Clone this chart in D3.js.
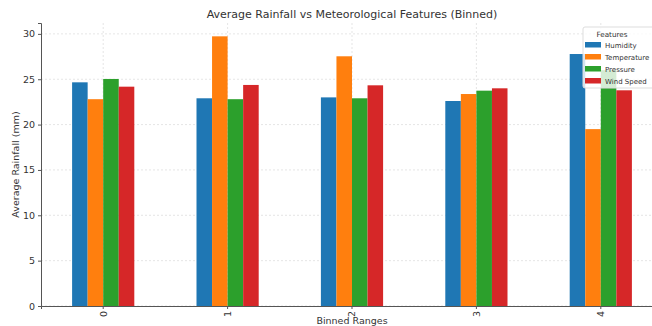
<!DOCTYPE html>
<html><head><meta charset="utf-8">
<script src="https://cdn.jsdelivr.net/npm/d3@7"></script>
<style>body{margin:0;background:#fff}svg{display:block;font-family:"DejaVu Sans",sans-serif}</style>
</head><body><svg id="c" width="652" height="326"></svg>
<script>
const categories = ["0","1","2","3","4"];
const seriesNames = ["Humidity","Temperature","Pressure","Wind Speed"];
const humidity    = [24.66, 22.90, 23.00, 22.60, 27.78];
const temperature = [22.80, 29.73, 27.53, 23.37, 19.50];
const pressure    = [25.03, 22.80, 22.90, 23.74, 26.00];
const windSpeed   = [24.18, 24.37, 24.33, 24.00, 23.78];
const yTicks = [0,5,10,15,20,25,30];
const colors = ["#1f77b4","#ff7f0e","#2ca02c","#d62728"];
const seriesValues = [humidity, temperature, pressure, windSpeed];

(function(){
const svg = d3.select("#c");
const mL = 41, mR = 663, mT = 23, mB = 306;
const x = d3.scaleBand().domain(categories).range([mL, mR]).paddingInner(0).paddingOuter(0);
const xs = d3.scaleBand().domain(seriesNames).range([0, x.bandwidth()]).paddingInner(0).paddingOuter(2);
const y = d3.scaleLinear().domain([0, 31.2]).range([mB, mT]);

// grid
const g = svg.append("g");
g.selectAll("line.h").data(yTicks).join("line")
  .attr("x1", mL).attr("x2", mR).attr("y1", d=>y(d)).attr("y2", d=>y(d))
  .attr("stroke","#dedede").attr("stroke-dasharray","2,2").attr("stroke-width",0.8);
g.selectAll("line.v").data(categories).join("line")
  .attr("x1", d=>x(d)+x.bandwidth()/2).attr("x2", d=>x(d)+x.bandwidth()/2).attr("y1", mT).attr("y2", mB)
  .attr("stroke","#dedede").attr("stroke-dasharray","2,2").attr("stroke-width",0.8);

// bars
seriesNames.forEach((s, si) => {
  svg.append("g").selectAll("rect").data(categories).join("rect")
    .attr("x", d => x(d) + xs(s))
    .attr("width", xs.bandwidth())
    .attr("y", (d,i) => y(seriesValues[si][i]))
    .attr("height", (d,i) => y(0) - y(seriesValues[si][i]))
    .attr("fill", colors[si]);
});

// axes
const yAxis = svg.append("g").attr("transform", `translate(${mL},0)`)
  .call(d3.axisLeft(y).tickValues(yTicks).tickSize(3).tickPadding(3));
const xAxis = svg.append("g").attr("transform", `translate(0,${mB})`)
  .call(d3.axisBottom(x).tickSize(3).tickPadding(3));
[yAxis, xAxis].forEach(a => {
  a.selectAll("path,line").attr("stroke","#555");
  a.selectAll("text").attr("fill","#333").attr("font-size","9.5px").attr("font-family","DejaVu Sans");
});
xAxis.selectAll("text").attr("transform","rotate(-90)").attr("text-anchor","end")
  .attr("x",-5).attr("y",0).attr("dy","0.35em");

// title & labels
svg.append("text").attr("x", (mL+mR)/2).attr("y", 18).attr("text-anchor","middle")
  .attr("font-size","11px").attr("fill","#333").text("Average Rainfall vs Meteorological Features (Binned)");
svg.append("text").attr("x", (mL+mR)/2).attr("y", 324).attr("text-anchor","middle")
  .attr("font-size","9.5px").attr("fill","#333").text("Binned Ranges");
svg.append("text").attr("transform", `translate(19,${(mT+mB)/2}) rotate(-90)`).attr("text-anchor","middle")
  .attr("font-size","9.5px").attr("fill","#333").text("Average Rainfall (mm)");

// legend
const lg = svg.append("g").attr("transform","translate(583,27)");
lg.append("rect").attr("x",0).attr("y",0).attr("width",80).attr("height",61).attr("rx",2)
  .attr("fill","#fff").attr("fill-opacity",0.8).attr("stroke","#ddd");
lg.append("text").attr("x",29).attr("y",10).attr("text-anchor","middle").attr("font-size","7.2px").attr("fill","#333").text("Features");
seriesNames.forEach((s,i) => {
  lg.append("rect").attr("x",2).attr("y",15+i*12).attr("width",16).attr("height",5.5).attr("fill",colors[i]);
  lg.append("text").attr("x",22).attr("y",21+i*12).attr("font-size","7px").attr("fill","#333").text(s);
});
})();
</script></body></html>
